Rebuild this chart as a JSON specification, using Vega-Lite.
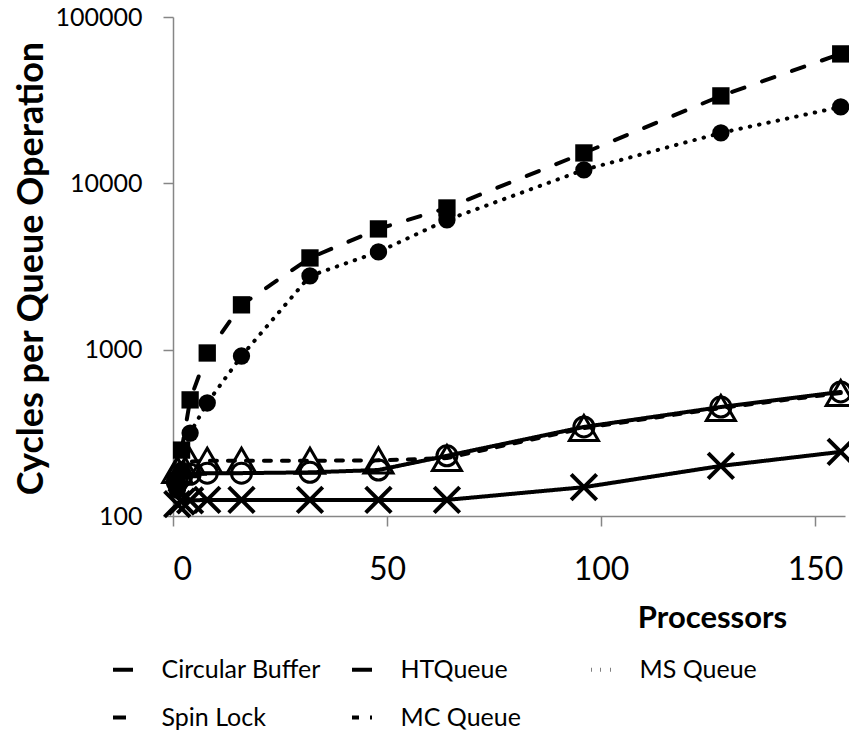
{
  "$schema": "https://vega.github.io/schema/vega-lite/v6.json",
  "width": 672,
  "height": 499,
  "autosize": {"type": "none"},
  "padding": {"left": 173, "top": 17, "right": 4, "bottom": 216},
  "background": "white",
  "config": {
    "view": {"stroke": null},
    "font": "Lato",
    "axis": {"grid": false, "domainColor": "#868686", "tickColor": "#868686", "domainWidth": 1.5, "tickWidth": 1.5, "labelColor": "black", "titleColor": "black", "labelFont": "Lato", "titleFont": "Lato"}
  },
  "data": {
    "values": [
      {"p": 1, "series": "Circular Buffer", "v": 118},
      {"p": 2, "series": "Circular Buffer", "v": 122},
      {"p": 4, "series": "Circular Buffer", "v": 124},
      {"p": 8, "series": "Circular Buffer", "v": 125},
      {"p": 16, "series": "Circular Buffer", "v": 125},
      {"p": 32, "series": "Circular Buffer", "v": 125},
      {"p": 48, "series": "Circular Buffer", "v": 125},
      {"p": 64, "series": "Circular Buffer", "v": 125},
      {"p": 96, "series": "Circular Buffer", "v": 149},
      {"p": 128, "series": "Circular Buffer", "v": 200},
      {"p": 156, "series": "Circular Buffer", "v": 243},
      {"p": 1, "series": "HTQueue", "v": 160},
      {"p": 2, "series": "HTQueue", "v": 172},
      {"p": 4, "series": "HTQueue", "v": 178},
      {"p": 8, "series": "HTQueue", "v": 181},
      {"p": 16, "series": "HTQueue", "v": 181},
      {"p": 32, "series": "HTQueue", "v": 183},
      {"p": 48, "series": "HTQueue", "v": 189},
      {"p": 64, "series": "HTQueue", "v": 230},
      {"p": 96, "series": "HTQueue", "v": 343},
      {"p": 128, "series": "HTQueue", "v": 452},
      {"p": 156, "series": "HTQueue", "v": 557},
      {"p": 1, "series": "MS Queue", "v": 143},
      {"p": 2, "series": "MS Queue", "v": 189},
      {"p": 4, "series": "MS Queue", "v": 315},
      {"p": 8, "series": "MS Queue", "v": 478},
      {"p": 16, "series": "MS Queue", "v": 916},
      {"p": 32, "series": "MS Queue", "v": 2775},
      {"p": 48, "series": "MS Queue", "v": 3870},
      {"p": 64, "series": "MS Queue", "v": 6025},
      {"p": 96, "series": "MS Queue", "v": 12050},
      {"p": 128, "series": "MS Queue", "v": 20100},
      {"p": 156, "series": "MS Queue", "v": 28800},
      {"p": 1, "series": "Spin Lock", "v": 160},
      {"p": 2, "series": "Spin Lock", "v": 249},
      {"p": 4, "series": "Spin Lock", "v": 499},
      {"p": 8, "series": "Spin Lock", "v": 955},
      {"p": 16, "series": "Spin Lock", "v": 1860},
      {"p": 32, "series": "Spin Lock", "v": 3560},
      {"p": 48, "series": "Spin Lock", "v": 5320},
      {"p": 64, "series": "Spin Lock", "v": 7110},
      {"p": 96, "series": "Spin Lock", "v": 15230},
      {"p": 128, "series": "Spin Lock", "v": 33550},
      {"p": 156, "series": "Spin Lock", "v": 60000},
      {"p": 1, "series": "MC Queue", "v": 189},
      {"p": 2, "series": "MC Queue", "v": 205},
      {"p": 4, "series": "MC Queue", "v": 212},
      {"p": 8, "series": "MC Queue", "v": 215},
      {"p": 16, "series": "MC Queue", "v": 215},
      {"p": 32, "series": "MC Queue", "v": 215},
      {"p": 48, "series": "MC Queue", "v": 216},
      {"p": 64, "series": "MC Queue", "v": 223},
      {"p": 96, "series": "MC Queue", "v": 338},
      {"p": 128, "series": "MC Queue", "v": 446},
      {"p": 156, "series": "MC Queue", "v": 549}
    ]
  },
  "encoding": {
    "x": {
      "field": "p", "type": "quantitative",
      "scale": {"domain": [0, 157], "nice": false, "zero": false},
      "axis": {"values": [0, 50, 100, 150], "tickSize": 10, "labelFontSize": 32, "labelPadding": 28, "title": "Processors", "titleFontSize": 31, "titleFontWeight": "bold", "titleX": 539, "titleY": 102, "titleAlign": "center", "titleBaseline": "middle"}
    },
    "y": {
      "field": "v", "type": "quantitative",
      "scale": {"type": "log", "domain": [100, 100000], "nice": false},
      "axis": {"values": [100, 1000, 10000, 100000], "format": "d", "tickSize": 10, "labelFontSize": 25, "labelPadding": 21, "title": "Cycles per Queue Operation", "titleFontSize": 36, "titleFontWeight": "bold", "titleX": -142, "titleY": 251, "titleAngle": -90, "titleAlign": "center", "titleBaseline": "middle"}
    }
  },
  "layer": [
    {
      "mark": {"type": "line", "color": "black", "strokeWidth": 4, "strokeCap": "round", "strokeJoin": "round"},
      "encoding": {
        "detail": {"field": "series"},
        "strokeDash": {
          "field": "series", "type": "nominal",
          "scale": {"domain": ["Circular Buffer", "HTQueue", "MS Queue", "Spin Lock", "MC Queue"], "range": [[1, 0], [1, 0], [0.5, 9], [13, 18.7], [7, 11]]},
          "legend": {
            "title": null, "orient": "none", "direction": "horizontal", "legendX": -83, "legendY": 640, "columns": 3, "gridAlign": "all", "columnPadding": 8, "rowPadding": 22, "padding": 0,
            "labelFontSize": 25, "labelFont": "Lato", "labelColor": "black", "labelLimit": 400,
            "symbolSize": 400, "symbolStrokeWidth": 4, "symbolOffset": 20.5, "labelOffset": 26
          }
        }
      }
    },
    {
      "transform": [{"filter": "datum.series === 'Circular Buffer'"}],
      "mark": {"type": "point", "shape": "M-1,-1L1,1M1,-1L-1,1", "filled": false, "stroke": "black", "strokeWidth": 4, "size": 650, "opacity": 1}
    },
    {
      "transform": [{"filter": "datum.series === 'HTQueue'"}],
      "mark": {"type": "point", "shape": "circle", "filled": false, "stroke": "black", "strokeWidth": 3, "size": 400, "opacity": 1}
    },
    {
      "transform": [{"filter": "datum.series === 'MS Queue'"}],
      "mark": {"type": "point", "shape": "circle", "filled": true, "fill": "black", "strokeWidth": 0, "size": 300, "opacity": 1}
    },
    {
      "transform": [{"filter": "datum.series === 'Spin Lock'"}],
      "mark": {"type": "point", "shape": "square", "filled": true, "fill": "black", "strokeWidth": 0, "size": 300, "opacity": 1}
    },
    {
      "transform": [{"filter": "datum.series === 'MC Queue'"}],
      "mark": {"type": "point", "shape": "triangle-up", "filled": false, "stroke": "black", "strokeWidth": 3, "size": 841, "opacity": 1}
    }
  ]
}
